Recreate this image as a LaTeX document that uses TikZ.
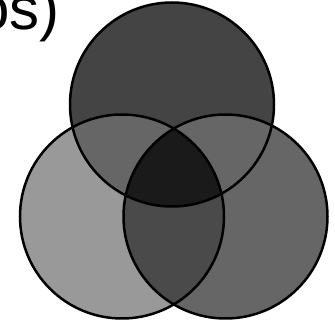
\documentclass[tikz,border=0pt]{standalone}
\usepackage{fontspec}
\setmainfont{Liberation Sans}
\usetikzlibrary{positioning}
\definecolor{topgray}{HTML}{444444}
\definecolor{leftgray}{HTML}{999999}
\definecolor{rightgray}{HTML}{666666}
\definecolor{pairgray}{HTML}{666666}
\definecolor{lrgray}{HTML}{4A4A4A}
\definecolor{coregray}{HTML}{1A1A1A}

\begin{document}
\begin{tikzpicture}[
x=1pt, y=1pt,
setdisk/.style={
    circle,
    minimum size=204pt,
    inner sep=0pt
},
titletext/.style={font=\fontsize{60}{60}\selectfont, inner sep=0pt, anchor=base west},
rim/.style={draw=black, line width=2.5pt}
]
\useasboundingbox (0,0) rectangle (335,321);
\clip (0,0) rectangle (335,321);

\node[titletext] (caption) at (-24,291) {os)};

\node[setdisk, fill=topgray] (ctop) at (172,216.5) {};
\node[setdisk, fill=leftgray] (cleft) at (122,104.5) {};
\node[setdisk, fill=rightgray] (cright) at (225.5,104.5) {};

% overlaps
\begin{scope}
  \clip (ctop.center) circle (102);
  \fill[pairgray] (cleft.center) circle (102);
  \fill[pairgray] (cright.center) circle (102);
\end{scope}
\begin{scope}
  \clip (cleft.center) circle (102);
  \fill[lrgray] (cright.center) circle (102);
  \clip (ctop.center) circle (102);
  \fill[coregray] (cright.center) circle (102);
\end{scope}

\foreach \c in {ctop,cleft,cright}
  \draw[rim] (\c.center) circle (102);

\end{tikzpicture}
\end{document}
